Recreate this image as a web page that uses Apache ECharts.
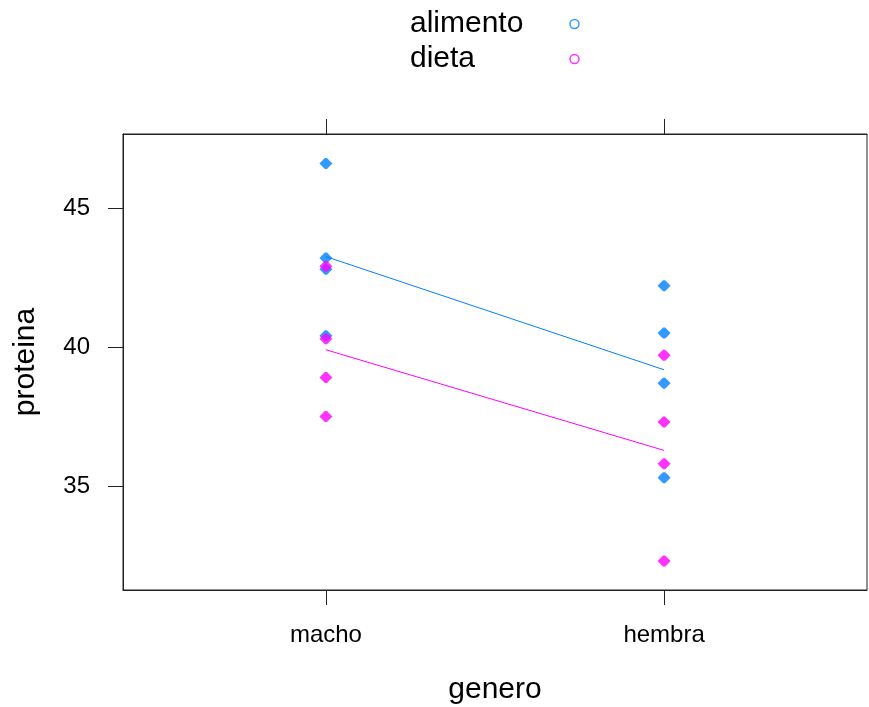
<!DOCTYPE html>
<html>
<head>
<meta charset="utf-8">
<script src="https://cdn.jsdelivr.net/npm/echarts@6/dist/echarts.min.js"></script>
<style>html,body{margin:0;padding:0;background:#fff;}#c{width:869px;height:707px;}</style>
</head>
<body>
<div id="c"></div>
<script>
var categories = ['macho', 'hembra'];
var groups = ['alimento', 'dieta'];
var alimentoMacho = [46.6, 43.2, 42.8, 40.4];
var alimentoHembra = [42.2, 40.5, 38.7, 35.3];
var dietaMacho = [42.9, 40.3, 38.9, 37.5];
var dietaHembra = [39.7, 37.3, 35.8, 32.3];
var alimentoMean = [43.25, 39.18];
var dietaMean = [39.9, 36.28];
var yTicks = [35, 40, 45];

var colors = ['#0080ff', '#ff00ff'];
var FONT = 'Liberation Sans, Arial, sans-serif';
var MARK = 'path://M0,5L3,2L5,0L7,0L9,2L12,5L9,8L7,10L5,10L3,8Z';

function pts(m, h) {
  var out = [];
  m.forEach(function (v) { out.push([1, v]); });
  h.forEach(function (v) { out.push([2, v]); });
  return out;
}
function meanLine(a) { return a.map(function (v, i) { return [i + 1, v]; }); }

var chart = echarts.init(document.getElementById('c'), null, {renderer: 'canvas'});
var axisLineStyle = {color: '#222', width: 1};
chart.setOption({
  animation: false,
  backgroundColor: '#fff',
  grid: {left: 123, right: 2, top: 134, bottom: 117, containLabel: false, outerBoundsMode: 'none',
    show: true, borderColor: '#222', borderWidth: 1, backgroundColor: 'transparent'},
  legend: {
    orient: 'vertical',
    left: 410,
    top: 9,
    padding: 0,
    align: 'right',
    itemGap: 5,
    itemWidth: 9,
    itemHeight: 9,
    icon: 'circle',
    selectedMode: false,
    formatter: function (n) { return '{a|' + n + '}'; },
    textStyle: {
      fontFamily: FONT, fontSize: 30, color: '#000',
      rich: {a: {fontFamily: FONT, fontSize: 30, color: '#000', width: 155, align: 'left', lineHeight: 30}}
    },
    data: [
      {name: 'alimento', itemStyle: {color: '#fff', borderColor: colors[0], borderWidth: 1.5}},
      {name: 'dieta', itemStyle: {color: '#fff', borderColor: colors[1], borderWidth: 1.5}}
    ]
  },
  xAxis: [{
    type: 'value', min: 0.4, max: 2.6, position: 'bottom',
    name: 'genero', nameLocation: 'middle', nameGap: 85,
    nameTextStyle: {fontFamily: FONT, fontSize: 30, color: '#000'},
    axisLine: {show: true, lineStyle: axisLineStyle},
    axisTick: {show: true, inside: false, length: 15, customValues: [1, 2], lineStyle: axisLineStyle},
    axisLabel: {show: true, customValues: [1, 2], margin: 33, fontFamily: FONT, fontSize: 24, color: '#000',
      formatter: function (v) { return categories[Math.round(v) - 1] || ''; }},
    splitLine: {show: false}
  }, {
    type: 'value', min: 0.4, max: 2.6, position: 'top',
    axisLine: {show: true, lineStyle: axisLineStyle},
    axisTick: {show: true, inside: false, length: 15, customValues: [1, 2], lineStyle: axisLineStyle},
    axisLabel: {show: false},
    splitLine: {show: false}
  }],
  yAxis: [{
    type: 'value', min: 31.26, max: 47.66, position: 'left',
    name: 'proteina', nameLocation: 'middle', nameGap: 82, nameRotate: 90,
    nameTextStyle: {fontFamily: FONT, fontSize: 30, color: '#000'},
    axisLine: {show: true, lineStyle: axisLineStyle},
    axisTick: {show: true, inside: false, length: 15, customValues: yTicks, lineStyle: axisLineStyle},
    axisLabel: {show: true, customValues: yTicks, margin: 33, fontFamily: FONT, fontSize: 24, color: '#000'},
    splitLine: {show: false}
  }],
  series: [
    {name: 'alimento', type: 'scatter', xAxisIndex: 0, symbol: MARK, symbolSize: [13, 11],
      itemStyle: {color: colors[0]}, data: pts(alimentoMacho, alimentoHembra), z: 3},
    {name: 'dieta', type: 'scatter', xAxisIndex: 0, symbol: MARK, symbolSize: [13, 11],
      itemStyle: {color: colors[1]}, data: pts(dietaMacho, dietaHembra), z: 4},
    {name: 'alimento', type: 'line', xAxisIndex: 0, showSymbol: false, symbol: 'none',
      lineStyle: {color: colors[0], width: 1}, data: meanLine(alimentoMean), z: 2},
    {name: 'dieta', type: 'line', xAxisIndex: 0, showSymbol: false, symbol: 'none',
      lineStyle: {color: colors[1], width: 1}, data: meanLine(dietaMean), z: 2}
  ]
});
</script>
</body>
</html>
